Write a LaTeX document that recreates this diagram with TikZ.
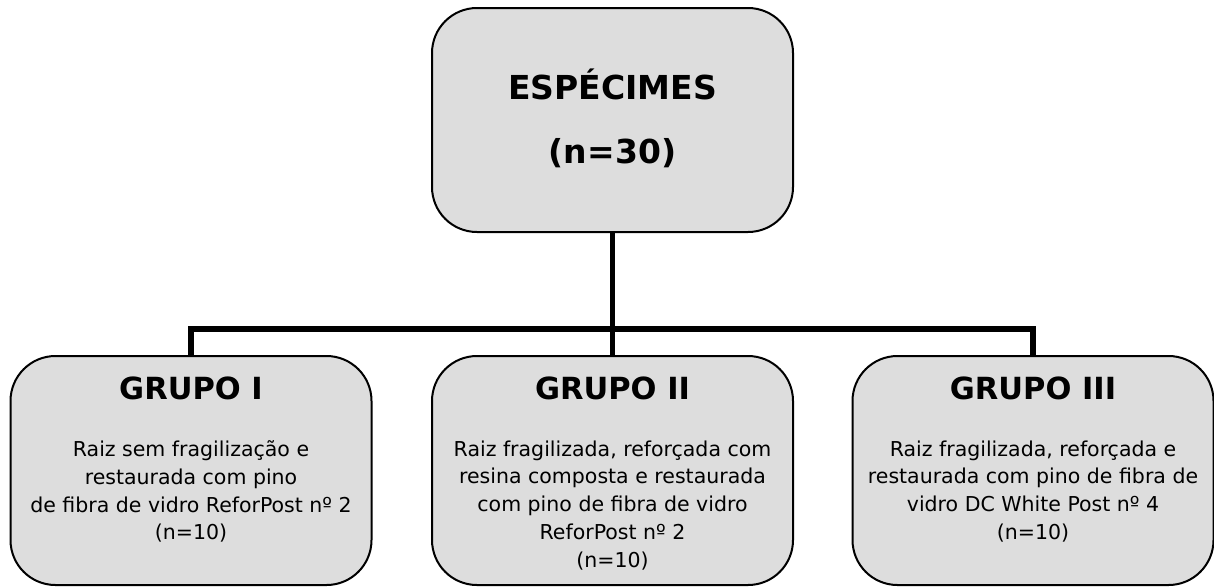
\documentclass[tikz,border=0pt]{standalone}
\usepackage{fontspec}
\setmainfont{DejaVu Sans}
\usetikzlibrary{positioning}
\definecolor{boxgray}{RGB}{221,221,221}
\tikzset{
 specbox/.style={draw, line width=2pt, fill=boxgray, rounded corners=45pt, minimum width=361pt, minimum height=224pt, inner sep=0pt},
 grpbox/.style={specbox, minimum height=229pt},
 grptitle/.style={font=\bfseries\fontsize{30.5}{36}\selectfont, inner sep=0pt},
 grptext/.style={font=\fontsize{20.5}{27.7}\selectfont, align=center, inner sep=0pt},
 link/.style={line width=5.5pt}
}
\begin{document}
\begin{tikzpicture}[x=1pt,y=-1pt]
 \useasboundingbox (0,0) rectangle (1214,587);
 % root
 \node[specbox, align=center, text depth=7pt, font=\bfseries\fontsize{33}{40}\selectfont] (esp) at (612.5,120) {ESPÉCIMES\\[24pt](n=30)};

 % groups
 \foreach \i/\x/\t in {1/191/I, 2/612.5/II, 3/1033/III} {
  \node[grpbox] (g\i) at (\x,470.5) {};
  \node[grptitle, below=22pt of g\i.north] (t\i) {GRUPO \t};
 }

 % descriptions
 \node[grptext, below=40pt of t1] (d1) {Raiz sem fragilização e\\restaurada com pino\\de fibra de vidro ReforPost nº 2\\(n=10)};
 \node[grptext, below=40pt of t2] (d2) {Raiz fragilizada, reforçada com\\resina composta e restaurada\\com pino de fibra de vidro\\ReforPost nº 2\\(n=10)};
 \node[grptext, below=40pt of t3] (d3) {Raiz fragilizada, reforçada e\\restaurada com pino de fibra de\\vidro DC White Post nº 4\\(n=10)};

 % connectors
 \draw[link] (esp.south) -- (g2.north);
 \draw[link] (g1.north) -- ++(0,-26) -| (g3.north);
\end{tikzpicture}
\end{document}
